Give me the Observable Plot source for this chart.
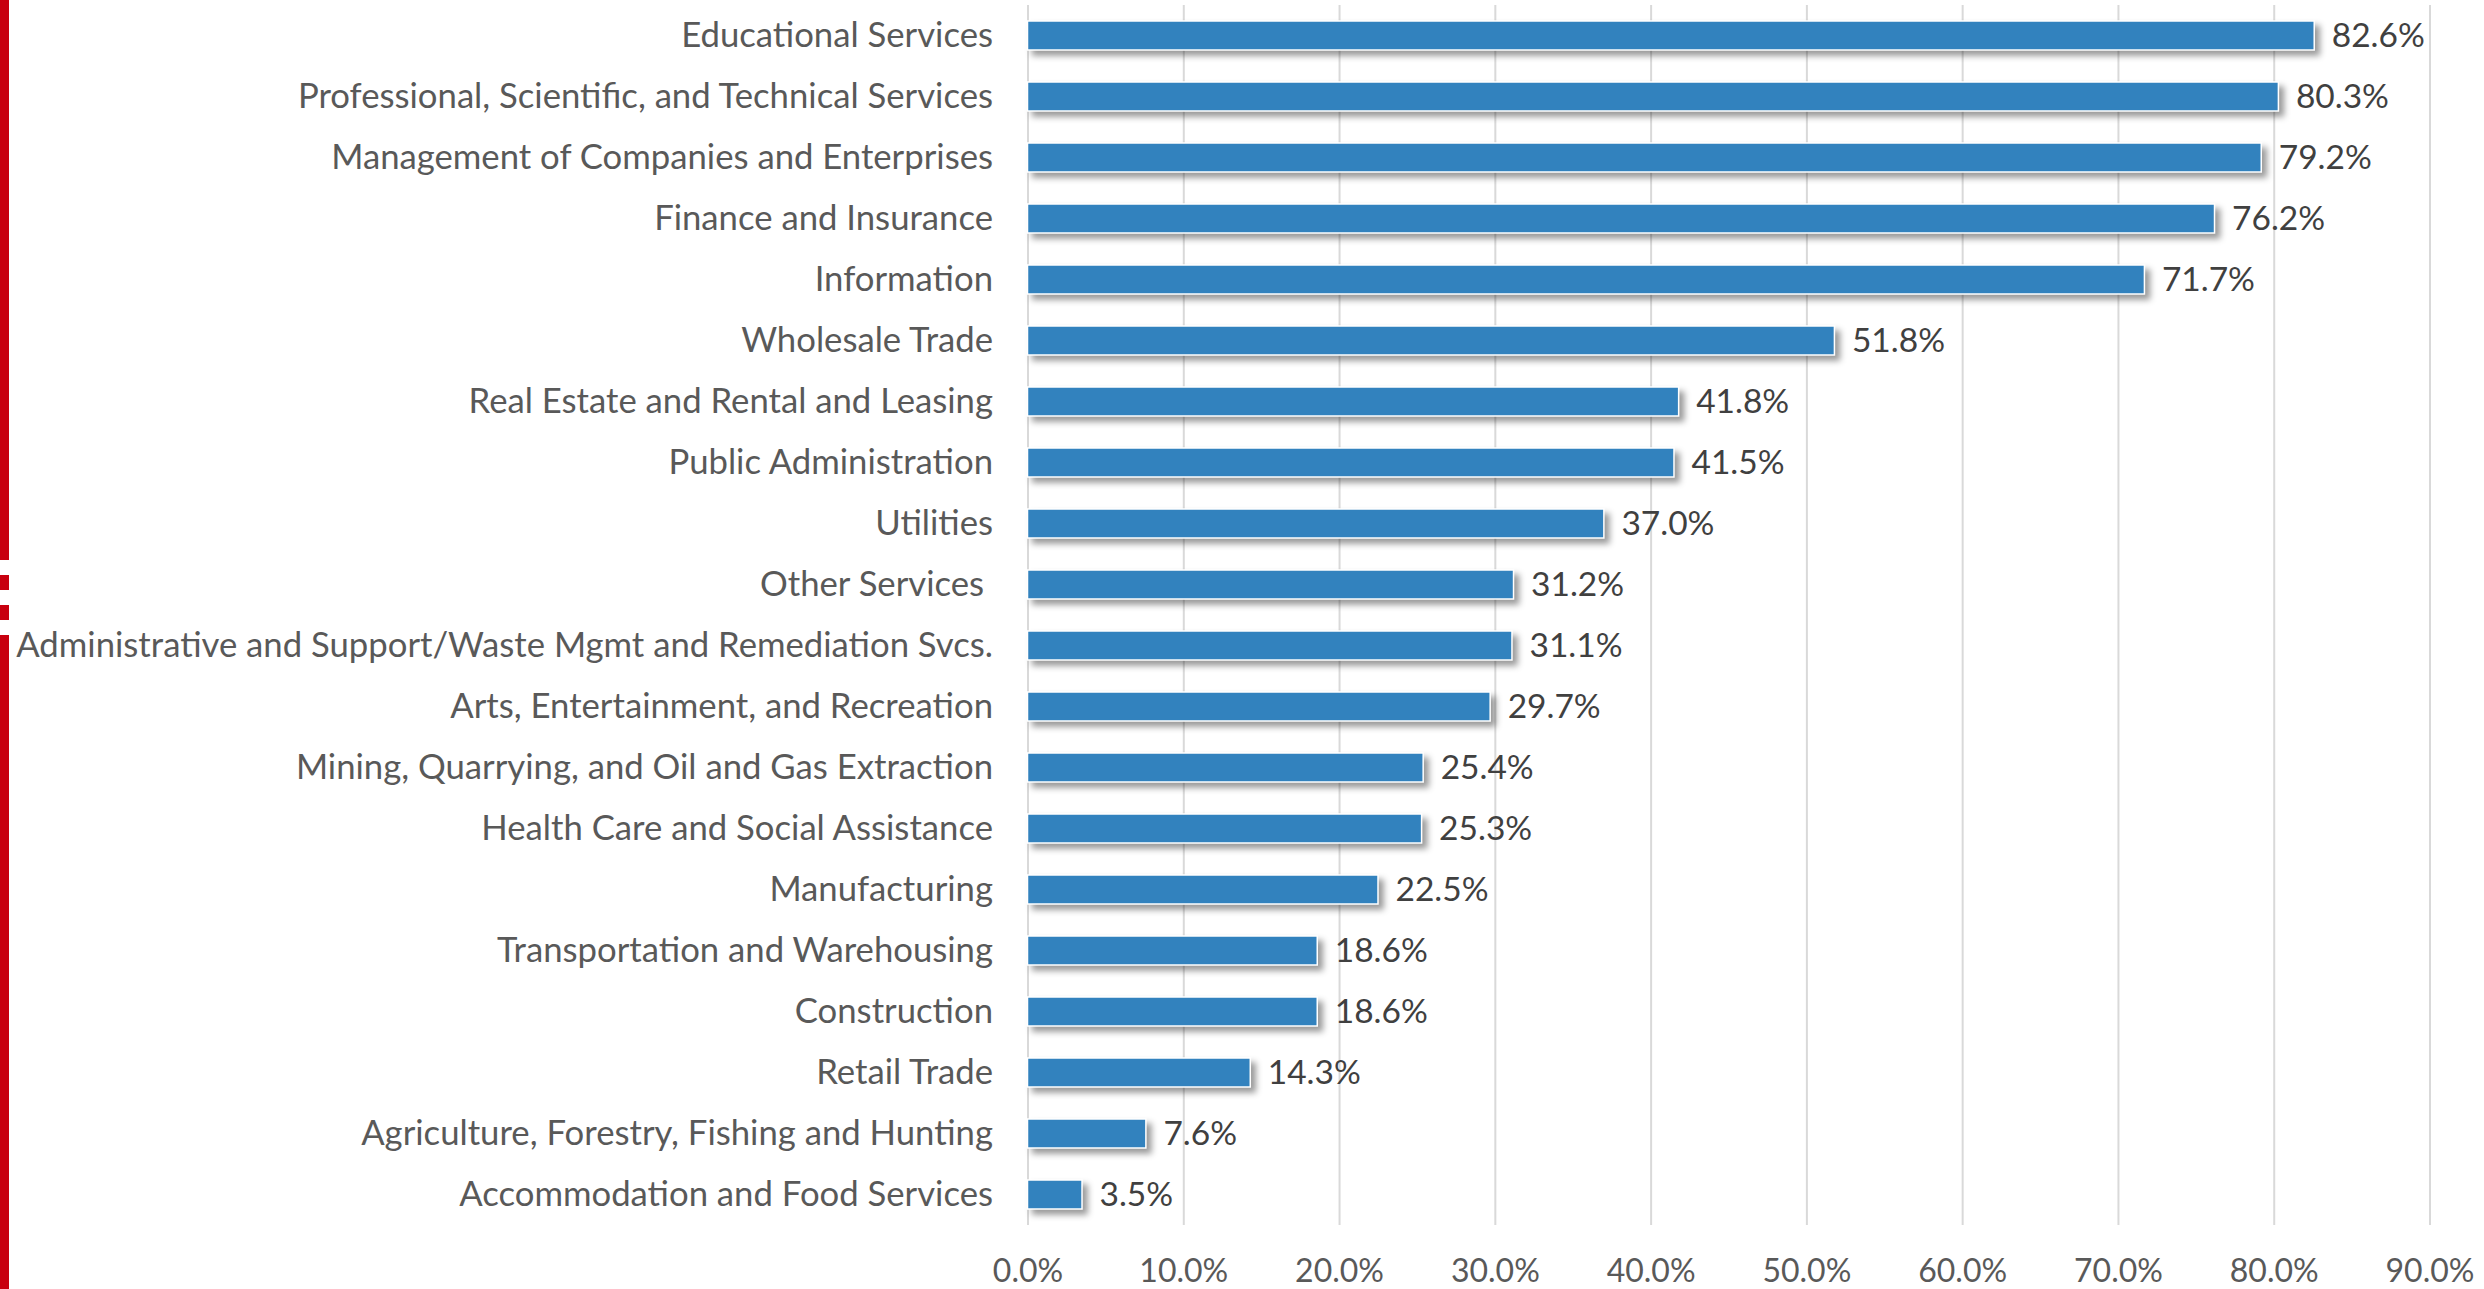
<!DOCTYPE html>
<html><head><meta charset="utf-8">
<script src="https://cdn.jsdelivr.net/npm/d3@7"></script>
<script src="https://cdn.jsdelivr.net/npm/@observablehq/plot@0.6"></script>
<style>
body{margin:0;background:#fff;}
#wrap{position:relative;width:2484px;height:1289px;overflow:hidden;}
#redbar{position:absolute;left:0;top:0;width:9px;height:1289px;
 background:linear-gradient(to bottom,#C8000F 0,#C8000F 560px,#fff 560px,#fff 575px,#C8000F 575px,#C8000F 590px,#fff 590px,#fff 605px,#C8000F 605px,#C8000F 620px,#fff 620px,#fff 635px,#C8000F 635px,#C8000F 1289px);}
.bars{filter:drop-shadow(5px 5px 3px rgba(0,0,0,0.4));}
</style></head>
<body><div id="wrap"><div id="chart"></div><div id="redbar"></div></div>
<script>
const categories = [
 "Educational Services",
 "Professional, Scientific, and Technical Services",
 "Management of Companies and Enterprises",
 "Finance and Insurance",
 "Information",
 "Wholesale Trade",
 "Real Estate and Rental and Leasing",
 "Public Administration",
 "Utilities",
 "Other Services\u00a0",
 "Administrative and Support/Waste Mgmt and Remediation Svcs.",
 "Arts, Entertainment, and Recreation",
 "Mining, Quarrying, and Oil and Gas Extraction",
 "Health Care and Social Assistance",
 "Manufacturing",
 "Transportation and Warehousing",
 "Construction",
 "Retail Trade",
 "Agriculture, Forestry, Fishing and Hunting",
 "Accommodation and Food Services"
];
const values = [82.6, 80.3, 79.2, 76.2, 71.7, 51.8, 41.8, 41.5, 37.0, 31.2, 31.1, 29.7, 25.4, 25.3, 22.5, 18.6, 18.6, 14.3, 7.6, 3.5];
const xTicks = [0, 10, 20, 30, 40, 50, 60, 70, 80, 90];

const data = categories.map((c, i) => ({industry: c, share: values[i]}));
const fmt = d => d.toFixed(1) + "%";

const chart = Plot.plot({
  width: 2484, height: 1289,
  marginLeft: 1027.5, marginRight: 54.5, marginTop: 5, marginBottom: 64,
  style: {fontFamily: "Lato, 'Open Sans', sans-serif", fontSize: "34.7px", color: "#595959", background: "transparent"},
  x: {domain: [0, 90], ticks: xTicks, tickFormat: fmt, label: null},
  y: {domain: categories, paddingInner: 0.52, paddingOuter: 0.26, label: null},
  marks: [
    Plot.gridX(xTicks, {stroke: "#d9d9d9", strokeOpacity: 1, strokeWidth: 2}),
    Plot.barX(data, {x: "share", y: "industry", fill: "#3282BE", stroke: "#ffffff", strokeWidth: 1.5, className: "bars"}),
    Plot.text(data, {x: "share", y: "industry", text: d => fmt(d.share), textAnchor: "start", dx: 17, fill: "#404040", fontSize: 33.5}),
    Plot.axisY({tickSize: 0, tickPadding: 35, fontSize: 34.7, color: "#595959"}),
    Plot.axisX(xTicks, {tickSize: 0, tickPadding: 34, fontSize: 32, color: "#595959", tickFormat: fmt})
  ]
});
document.getElementById("chart").appendChild(chart);
</script>
</body></html>
